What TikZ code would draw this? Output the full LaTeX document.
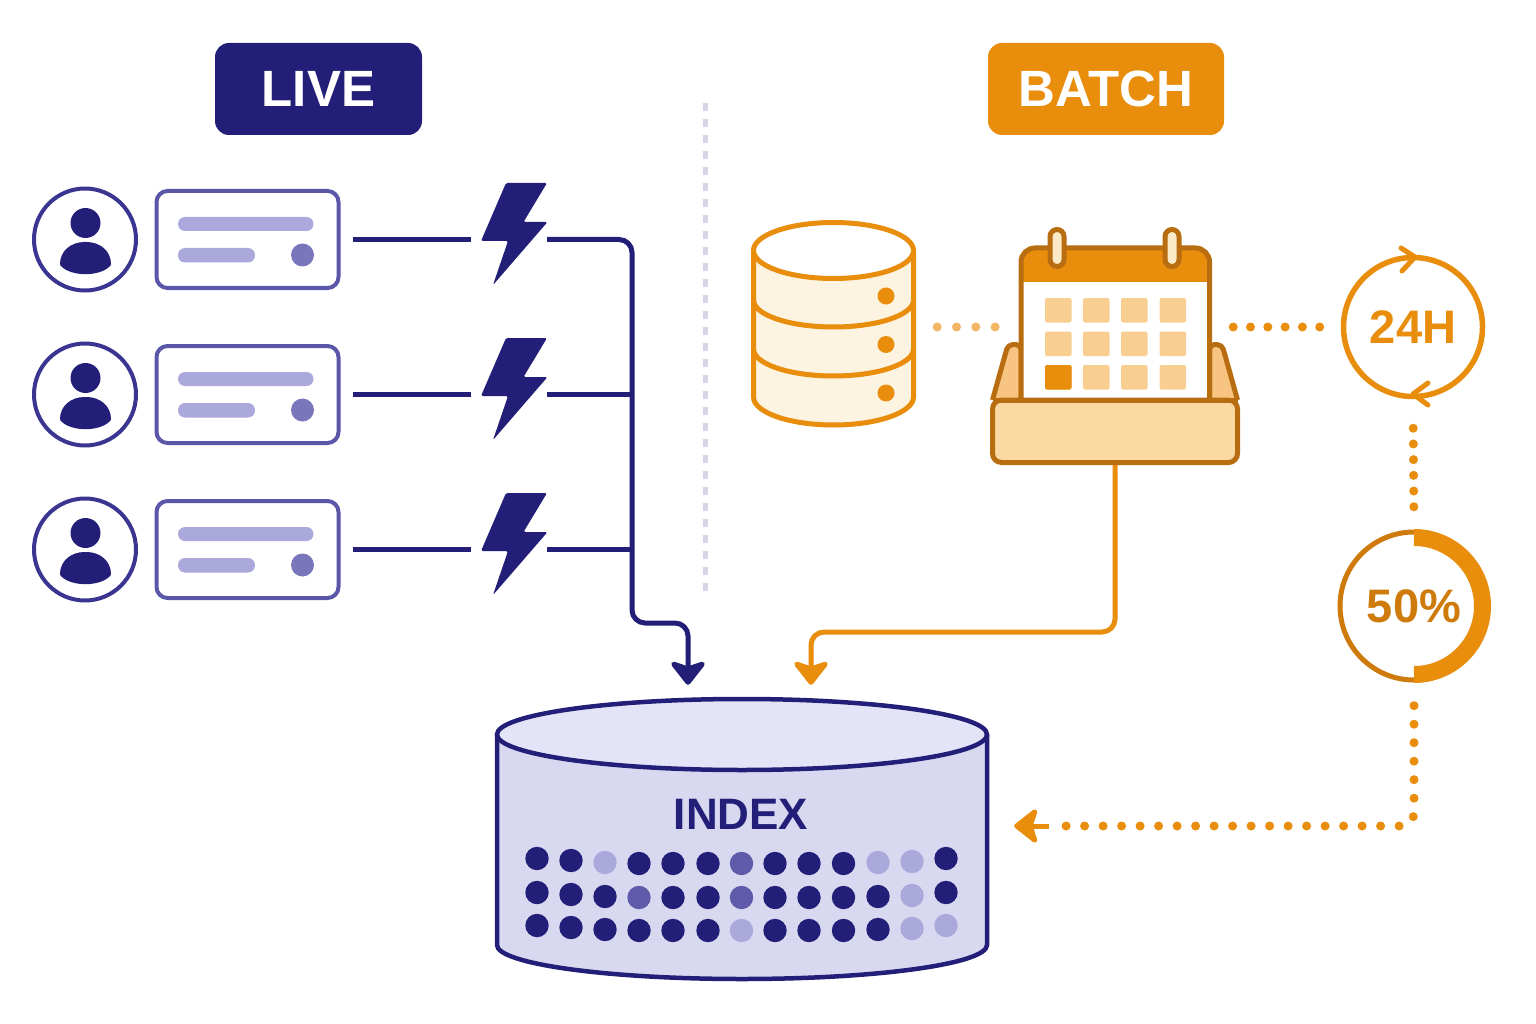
\documentclass[tikz,border=0pt]{standalone}
\usepackage{fontspec}
\setmainfont{Liberation Sans}
\usetikzlibrary{arrows.meta}
\definecolor{navy}{HTML}{231F78}
\definecolor{ringblue}{HTML}{3A3590}
\definecolor{cardblue}{HTML}{5A57A8}
\definecolor{barblue}{HTML}{ABA8DC}
\definecolor{knobblue}{HTML}{7A76BC}
\definecolor{midblue}{HTML}{5F5BAA}
\definecolor{lidblue}{HTML}{E4E4F8}
\definecolor{drumblue}{HTML}{D8D9F1}
\definecolor{sepgrey}{HTML}{D5D5EA}
\definecolor{amber}{HTML}{E88D0C}
\definecolor{amberdark}{HTML}{B86E10}
\definecolor{ambertext}{HTML}{CE7B0B}
\definecolor{amberpale}{HTML}{F3B665}
\definecolor{cream}{HTML}{FDF3E1}
\definecolor{cellfill}{HTML}{F9CF91}
\definecolor{trayfill}{HTML}{FBD9A2}
\definecolor{flapfill}{HTML}{F7C581}
\definecolor{ringfill}{HTML}{FCE9C8}
\tikzset{
  badge/.style={rounded corners=14pt, text=white, font=\bfseries\fontsize{51}{51}\selectfont, minimum height=92pt},
  usercircle/.style={circle, draw=ringblue, line width=4pt, fill=white, minimum size=102pt, inner sep=0pt},
  cardbox/.style={rectangle, draw=cardblue, line width=4pt, fill=white, rounded corners=11pt, minimum width=182pt, minimum height=97pt},
  boltbox/.style={rectangle, inner sep=0pt, minimum width=65pt, minimum height=100pt},
  ghost/.style={rectangle, inner sep=0pt},
  liveline/.style={draw=navy, line width=5pt, rounded corners=13pt},
  batchline/.style={draw=amber, line width=5pt, rounded corners=13pt},
  livetip/.style={-{Stealth[length=27pt,width=42pt,inset=7pt,round]}},
  dots/.style={line cap=round, line width=9pt, dash pattern=on 0pt off #1},
}
\begin{document}
\begin{tikzpicture}[x=1pt, y=-1pt, node distance=162.5pt, >=stealth]
    \useasboundingbox (0,0) rectangle (1536,1024);
    \fill[white] (0,0) rectangle (1536,1024);
    \node (live) [badge, fill=navy, minimum width=207pt] at (318.5,89) {LIVE};
    \node (batch) [badge, fill=amber, minimum width=236pt] at (1106,89) {BATCH};
    \draw[sepgrey, line width=5pt, dash pattern=on 8pt off 8pt] (705,103) -- (705,596);
    % the three live rows
    \foreach \r/\y in {1/0,2/155,3/310} {
      \begin{scope}[shift={(0,\y)}]
        \node (user\r) [usercircle] at (85,239.5) {};
        \fill[navy] (85.5,223) circle[radius=15pt];
        \fill[navy, rounded corners=1pt] (60,265) .. controls (60,251) and (71,242) .. (85.5,242) .. controls (100,242) and (111,251) .. (111,265) .. controls (100,277) and (71,277) .. (60,265) -- cycle;
        \node (card\r) [cardbox, right of=user\r] {};
        \fill[barblue, rounded corners=7pt] (178,217) rectangle (313.5,231);
        \fill[barblue, rounded corners=7pt] (178,248) rectangle (255,262.5);
        \fill[knobblue] (302.5,255) circle[radius=11.5pt];
        \node (bolt\r) [boltbox, right of=card\r, xshift=104.5pt] {};
        \fill[navy, rounded corners=1.5pt] (506,183) -- (547,183) -- (523.5,222) -- (547.5,222) -- (493,285) -- (508,241) -- (481,241) -- cycle;
      \end{scope}
    }
    \coordinate (busfoot) at (632,623);
    \coordinate (livedrop) at (688,623);
    \coordinate (batchdrop) at (811,632);
    % index drum
    \node (index) [ghost, minimum width=490pt, minimum height=283pt] at (742,838.5) {};
    \fill[drumblue] (497,734.5) -- (497,945) arc[start angle=180, end angle=360, x radius=245pt, y radius=34pt] -- (987,734.5) -- cycle;
    \draw[navy, line width=4.5pt] (497,734.5) -- (497,945) arc[start angle=180, end angle=360, x radius=245pt, y radius=34pt] -- (987,734.5);
    \draw[navy, line width=4.5pt, fill=lidblue] (742,734.5) ellipse[x radius=245pt, y radius=35.5pt];
    \node (indexlabel) [text=navy, font=\bfseries\fontsize{44}{44}\selectfont] at (741,814) {INDEX};
    \foreach \x/\o/\a/\b/\c in {537/0/navy/navy/navy, 571/2/navy/navy/navy, 605/4/barblue/navy/navy, 639/5/navy/midblue/navy, 673/5/navy/navy/navy, 708/5/navy/navy/navy, 741.5/5/midblue/midblue/barblue, 775/5/navy/navy/navy, 809/5/navy/navy/navy, 843.5/5/navy/navy/navy, 878/4/barblue/navy/navy, 912/3/barblue/barblue/barblue, 946/0/navy/navy/barblue} {
      \fill[\a] (\x,858.5+\o) circle[radius=11.7pt];
      \fill[\b] (\x,892.5+\o) circle[radius=11.7pt];
      \fill[\c] (\x,925.5+\o) circle[radius=11.7pt];
    }
    % live connectors
    \draw[liveline] (card1.east) [shorten <=12pt, shorten >=11pt] -- (bolt1.west);
    \draw[liveline] (card2.east) [shorten <=12pt, shorten >=11pt] -- (bolt2.west);
    \draw[liveline] (card3.east) [shorten <=12pt, shorten >=11pt] -- (bolt3.west);
    \draw[liveline] (bolt2.east) -- (bolt2.east -| busfoot);
    \draw[liveline] (bolt3.east) -- (bolt3.east -| busfoot);
    \draw[liveline, livetip, shorten >=12pt] (bolt1.east) -| (busfoot) -- (livedrop) -- (livedrop |- index.north);
    % store
    \node (store) [ghost, minimum width=165pt, minimum height=207pt] at (833.5,323.5) {};
    \fill[cream] (753.5,250.5) -- (753.5,397) arc[start angle=180, end angle=360, x radius=80pt, y radius=28pt] -- (913.5,250.5) -- cycle;
    \draw[amber, line width=5pt] (753.5,250.5) -- (753.5,397) arc[start angle=180, end angle=360, x radius=80pt, y radius=28pt] -- (913.5,250.5);
    \draw[amber, line width=5pt, fill=white] (833.5,250.5) ellipse[x radius=80pt, y radius=28pt];
    \draw[amber, line width=5pt] (753.5,300) arc[start angle=180, end angle=360, x radius=80pt, y radius=27pt];
    \draw[amber, line width=5pt] (753.5,349) arc[start angle=180, end angle=360, x radius=80pt, y radius=27pt];
    \fill[amber] (886,296) circle[radius=8.5pt];
    \fill[amber] (886,344.5) circle[radius=8.5pt];
    \fill[amber] (886,393) circle[radius=8.5pt];
    % calendar in its tray
    \node (calendar) [ghost, minimum width=194pt, minimum height=155pt] at (1115,322.5) {};
    \node (tray) [ghost, minimum width=250pt, minimum height=67pt] at (1115,431.5) {};
    \draw[amberdark, line width=5pt, fill=flapfill, line join=round, rounded corners=5pt] (992.5,400) -- (1008,344.5) -- (1021,344.5) -- (1021,400);
    \draw[amberdark, line width=5pt, fill=flapfill, line join=round, rounded corners=5pt] (1237.5,400) -- (1222,344.5) -- (1209.5,344.5) -- (1209.5,400);
    \fill[white] (1021,282) rectangle (1209.5,400);
    \fill[amber, rounded corners=14pt] (1021,248) -- (1209.5,248) -- (1209.5,300) -- (1021,300) -- cycle;
    \fill[white] (1021,282) rectangle (1209.5,310);
    \draw[amberdark, line width=5pt, rounded corners=14pt] (1021,400) -- (1021,248) -- (1209.5,248) -- (1209.5,400);
    \foreach \x in {1057,1172} {
      \draw[amberdark, line width=5pt, fill=ringfill, rounded corners=7pt] (\x-7,229.5) rectangle (\x+7,266.5);
    }
    \foreach \x in {1045,1083,1121,1159.5} {
      \foreach \y in {298,331.5,365} {
        \fill[cellfill, rounded corners=2pt] (\x,\y) rectangle (\x+26.5,\y+24.5);
      }
    }
    \fill[amber, rounded corners=2pt] (1045,365) rectangle (1071.5,389.5);
    \draw[amberdark, line width=5pt, fill=trayfill, line join=round, rounded corners=9pt] (992.5,400) -- (992.5,462.5) -- (1237.5,462.5) -- (1237.5,400) -- cycle;
    \draw[amberdark, line width=5pt] (992.5,400) -- (1237.5,400);
    % clock and share
    \node (cycle) [circle, draw=amber, line width=5.5pt, minimum size=139pt, inner sep=0pt, text=amber, font=\bfseries\fontsize{47}{47}\selectfont] at (1413,327) {24H};
    \draw[amber, line width=5pt, line cap=round, line join=round] (1401,248) -- (1415,257) -- (1402,271);
    \draw[amber, line width=5pt, line cap=round, line join=round] (1428,383) -- (1413,394) -- (1428,405);
    \node (progress) [circle, minimum size=153pt, inner sep=0pt, text=ambertext, font=\bfseries\fontsize{47}{47}\selectfont] at (1414,606) {50\%};
    \draw[ambertext, line width=5pt] ([yshift=74pt]progress.center) arc[start angle=90, end angle=270, radius=74pt];
    \draw[amber, line width=17pt] ([yshift=68.5pt]progress.center) arc[start angle=90, end angle=-90, radius=68.5pt];
    % batch connectors
    \draw[amberpale, dots=19.3pt, shorten <=21pt, shorten >=22pt] (store.east |- cycle.west) -- (calendar.west |- cycle.west);
    \draw[amber, dots=17.3pt, shorten <=21pt, shorten >=20pt] (calendar.east |- cycle.west) -- (cycle.west);
    \draw[amber, dots=15.7pt, shorten <=29pt, shorten >=22pt] (cycle.south) -- (progress.north);
    \coordinate (backneck) at (1049,826);
    \draw[amber, dots=18.5pt, rounded corners=13pt, shorten <=23pt, shorten >=14pt] (progress.south) |- (backneck);
    \draw[batchline, livetip, shorten >=27pt] (backneck) -- (index.east |- backneck);
    \draw[batchline, livetip, shorten >=12pt] (tray.south) |- (batchdrop) -- (batchdrop |- index.north);
\end{tikzpicture}
\end{document}
